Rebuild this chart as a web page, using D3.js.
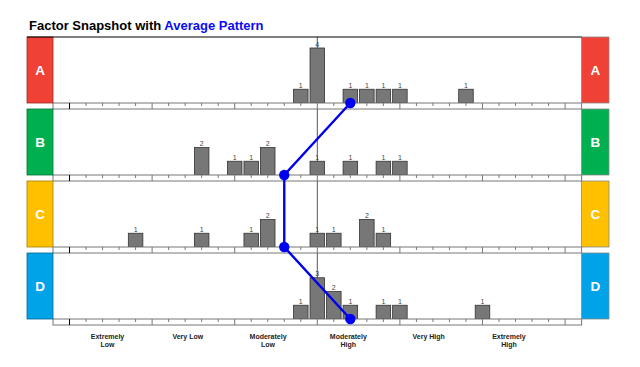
<!DOCTYPE html>
<html><head><meta charset="utf-8">
<script src="https://cdn.jsdelivr.net/npm/d3@7"></script>
<style>body{margin:0;background:#fff}svg{display:block}</style>
</head><body>
<script>
// ---- data ----
const panelNames = ["A", "B", "C", "D"];
const panelColors = ["#ef4136", "#00b050", "#ffc000", "#00a2e8"];
const binsA = [15, 16, 18, 19, 20, 21, 25];
const countsA = [1, 4, 1, 1, 1, 1, 1];
const binsB = [9, 11, 12, 13, 16, 18, 20, 21];
const countsB = [2, 1, 1, 2, 1, 1, 1, 1];
const binsC = [5, 9, 12, 13, 16, 17, 19, 20];
const countsC = [1, 1, 1, 2, 1, 1, 2, 1];
const binsD = [15, 16, 17, 18, 20, 21, 26];
const countsD = [1, 3, 2, 1, 1, 1, 1];
const averages = [18.0, 14.0, 14.0, 18.0];
const levelLabels = [["Extremely", "Low"], ["Very Low"], ["Moderately", "Low"], ["Moderately", "High"], ["Very High"], ["Extremely", "High"]];
const referenceValue = 16;
const titleParts = ["Factor Snapshot with ", "Average Pattern"];

const panelBins = [binsA, binsB, binsC, binsD];
const panelCounts = [countsA, countsB, countsC, countsD];

// ---- layout ----
const W = 640, H = 367;
const plotL = 53, plotR = 581.6;
const boxL = 27, boxR = 609;
const top0 = 37, panelH = 66, stripH = 6, period = 72;

const svg = d3.select("body").append("svg").attr("width", W).attr("height", H);

const x = d3.scaleLinear().domain([0, 32]).range([plotL, plotR]);
const step = x(1) - x(0);
const barW = step * 0.88;
const y = d3.scaleLinear().domain([0, 4.8]).range([panelH, 0]);

// title
const title = svg.append("text").attr("x", 29).attr("y", 29.5)
  .attr("font-family", "Liberation Sans, Arial, sans-serif")
  .attr("font-weight", "bold").attr("font-size", 13);
title.append("tspan").attr("fill", "#000").text(titleParts[0]);
title.append("tspan").attr("fill", "#0a0af5").text(titleParts[1]);

// reference vertical line
svg.append("line")
  .attr("x1", x(referenceValue)).attr("x2", x(referenceValue))
  .attr("y1", top0).attr("y2", top0 + 3 * period + panelH + stripH)
  .attr("stroke", "#555").attr("stroke-width", 1);

panelNames.forEach((name, p) => {
  const g = svg.append("g").attr("transform", `translate(0,${top0 + p * period})`);
  const col = panelColors[p];
  const dark = d3.color(col).darker(1.2).formatHex();

  // bars
  const data = panelBins[p].map((b, i) => ({ b, c: panelCounts[p][i] }));
  g.selectAll("rect.bar").data(data).join("rect").attr("class", "bar")
    .attr("x", d => x(d.b) - barW / 2).attr("width", barW)
    .attr("y", d => y(d.c)).attr("height", d => y(0) - y(d.c))
    .attr("fill", "#777").attr("stroke", "#333").attr("stroke-width", 0.8);
  g.selectAll("text.cnt").data(data).join("text").attr("class", "cnt")
    .attr("x", d => x(d.b)).attr("y", d => y(d.c) - 1.5)
    .attr("text-anchor", "middle")
    .attr("font-family", "Liberation Sans, Arial, sans-serif")
    .attr("font-size", 7).attr("fill", "#444").text(d => d.c);

  // tick strip
  const strip = g.append("g").attr("transform", `translate(0,${panelH})`);
  strip.append("rect").attr("x", plotL).attr("y", 0).attr("width", plotR - plotL).attr("height", stripH)
    .attr("fill", "#fff").attr("stroke", "#777").attr("stroke-width", 1);
  const ticks = d3.range(1, 32);
  strip.selectAll("line.t").data(ticks).join("line").attr("class", "t")
    .attr("x1", d => x(d)).attr("x2", d => x(d))
    .attr("y1", 0).attr("y2", d => (d % 5 === 1) ? stripH : 3)
    .attr("stroke", d => d === 1 ? "#000" : "#777").attr("stroke-width", 1);

  // left box
  g.append("rect").attr("x", boxL).attr("y", 0).attr("width", plotL - boxL).attr("height", panelH)
    .attr("fill", col).attr("stroke", dark).attr("stroke-width", 0.8);
  g.append("text").attr("x", (boxL + plotL) / 2).attr("y", panelH / 2 + 5)
    .attr("text-anchor", "middle").attr("font-family", "Liberation Sans, Arial, sans-serif")
    .attr("font-weight", "bold").attr("font-size", 13.5).attr("fill", "#fff").text(name);
  // right box
  g.append("rect").attr("x", plotR).attr("y", 0).attr("width", boxR - plotR).attr("height", panelH)
    .attr("fill", col).attr("stroke", "#888").attr("stroke-width", 0.8);
  g.append("text").attr("x", (plotR + boxR) / 2).attr("y", panelH / 2 + 5)
    .attr("text-anchor", "middle").attr("font-family", "Liberation Sans, Arial, sans-serif")
    .attr("font-weight", "bold").attr("font-size", 13.5).attr("fill", "#fff").text(name);
});

// top border of first panel
svg.append("line").attr("x1", boxL).attr("x2", plotR).attr("y1", top0).attr("y2", top0)
  .attr("stroke", "#000").attr("stroke-width", 1.2);

// average pattern
const pts = averages.map((a, p) => [x(a), top0 + p * period + panelH]);
svg.append("path").attr("d", d3.line()(pts)).attr("fill", "none")
  .attr("stroke", "#0000f0").attr("stroke-width", 2.4);
svg.selectAll("circle.avg").data(pts).join("circle").attr("class", "avg")
  .attr("cx", d => d[0]).attr("cy", d => d[1]).attr("r", 5.2).attr("fill", "#0000f0");

// level labels
const lx = d3.scalePoint().domain(levelLabels.map(d => d.join(" "))).range([x(3.3), x(27.6)]);
const lg = svg.append("g");
levelLabels.forEach(lines => {
  const t = lg.append("text").attr("x", lx(lines.join(" "))).attr("y", 339)
    .attr("text-anchor", "middle").attr("font-family", "Liberation Sans, Arial, sans-serif")
    .attr("font-weight", "bold").attr("font-size", 7).attr("fill", "#222");
  lines.forEach((s, i) => t.append("tspan").attr("x", lx(lines.join(" "))).attr("dy", i === 0 ? 0 : 8.3).text(s));
});
</script>
</body></html>
